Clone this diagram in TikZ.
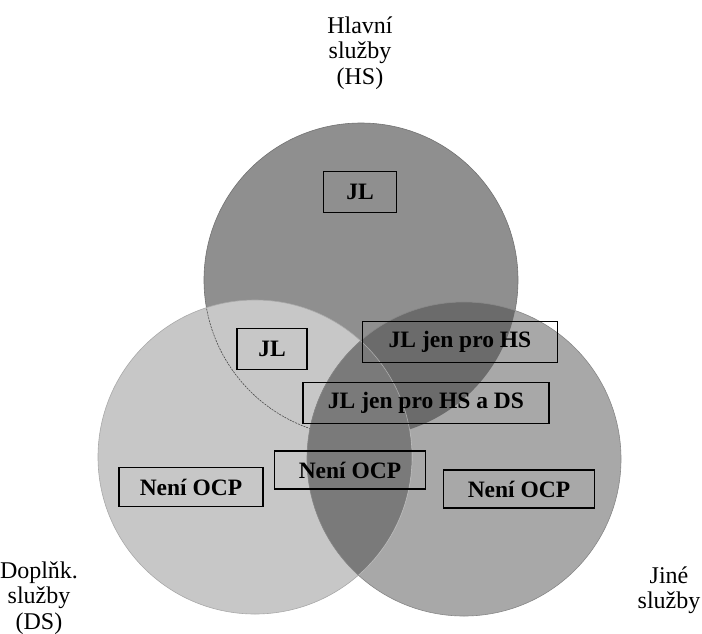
\documentclass[tikz,border=0pt]{standalone}
\usepackage{fontspec}
\setmainfont{Liberation Serif}
\usetikzlibrary{calc,positioning}
\definecolor{hsgray}{gray}{0.56}
\definecolor{dsgray}{gray}{0.78}
\definecolor{jigray}{gray}{0.66}
\definecolor{hsjigray}{gray}{0.42}
\definecolor{dsjigray}{gray}{0.48}
\tikzset{
  box/.style={draw=black, line width=1.3pt, inner sep=0pt, minimum height=41pt,
    font=\bfseries\fontsize{23.5}{25}\selectfont},
  lbl/.style={align=center, font=\fontsize{24}{25.5}\selectfont}
}

\begin{document}
\begin{tikzpicture}[x=1pt,y=-1pt]
          \def\rad{157pt}
          \useasboundingbox (0,0) rectangle (702,633);
          \coordinate (chs) at (361,280);
          \coordinate (cds) at (255,457);
          \coordinate (cji) at (464,459);

          \fill[hsgray] (chs) circle[radius=\rad];
          \draw[hsgray!80!black, line width=0.6pt] (chs) circle[radius=\rad];
          \fill[dsgray] (cds) circle[radius=\rad];
          \draw[dsgray!85!black, line width=0.6pt] (cds) circle[radius=\rad];
          \begin{scope}
            \clip (cds) circle[radius=\rad];
            \draw[black!70, line width=0.6pt, dash pattern=on 2pt off 1pt] (chs) circle[radius=\rad];
          \end{scope}

          \fill[jigray] (cji) circle[radius=\rad];
          \begin{scope}
            \clip (cji) circle[radius=\rad];
            \fill[hsjigray] (chs) circle[radius=\rad];
            \fill[dsjigray] (cds) circle[radius=\rad];
            \draw[white, opacity=0.4, line width=0.6pt] (cds) circle[radius=\rad];
          \end{scope}
          \draw[jigray!80!black, line width=0.6pt] (cji) circle[radius=\rad];

          \node[box, minimum width=73pt] (jlhs) at (360,192) {JL};
          \node[box, minimum width=70pt] (jlds) at (272,349) {JL};
          \node[box, minimum width=195pt] (jenhs) at (460,342) {JL jen pro HS};
          \node[box, minimum width=246pt] (jenhsds) at (426,403) {JL jen pro HS a DS};
          \node[box, minimum width=151pt, minimum height=38pt] (ocpmid) at (350,470) {Není OCP};
          \node[box, minimum width=144pt, minimum height=39pt] (ocpds) at (191,487) {Není OCP};
          \node[box, minimum width=151pt, minimum height=38pt] (ocpji) at (519,489) {Není OCP};

          \node[lbl] (hs) at (360,53) {Hlavní\\služby\\(HS)};
          \node[lbl] (ds) at (39,598) {Doplňk.\\služby\\(DS)};
          \node[lbl] (ji) at (669,590) {Jiné\\služby};
        \end{tikzpicture}
\end{document}
